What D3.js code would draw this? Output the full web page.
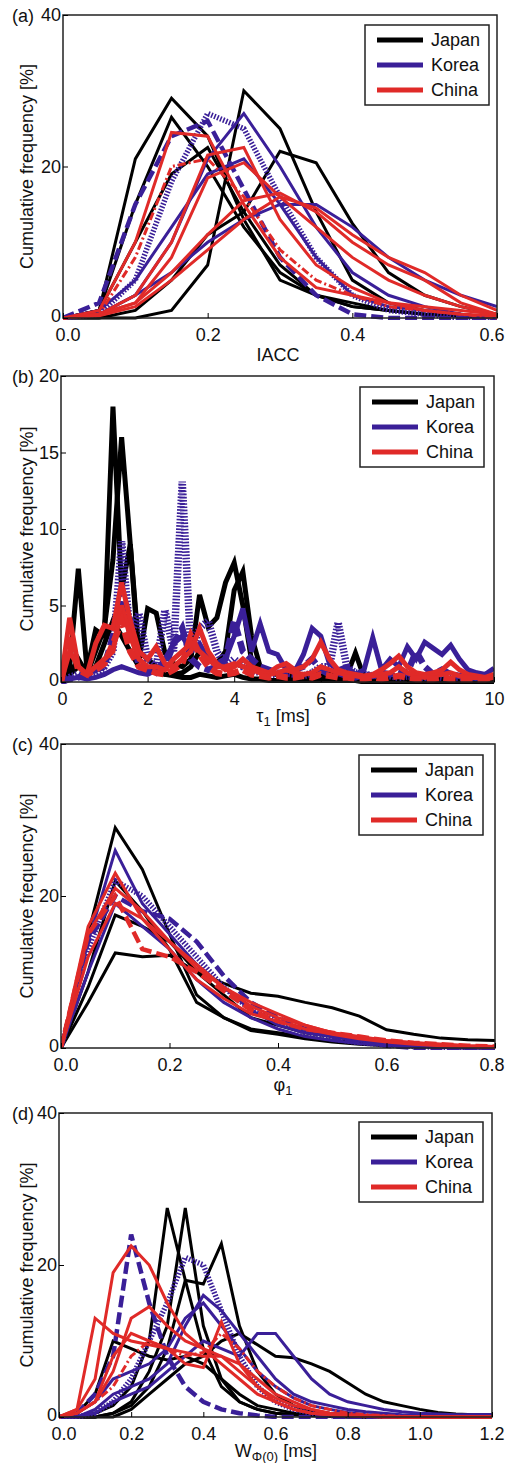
<!DOCTYPE html>
<html>
<head>
<meta charset="utf-8">
<script src="https://cdn.jsdelivr.net/npm/d3@7"></script>
<style>
  body { margin: 0; background: #fff; }
  svg text { font-family: "Liberation Sans", Arial, sans-serif; fill: #111; }
</style>
</head>
<body>
<div id="chart"></div>
<script>
// ---------- (a) IACC ----------
var iaccX = [0, 0.05, 0.1, 0.15, 0.2, 0.25, 0.3, 0.35, 0.4, 0.45, 0.5, 0.55, 0.6];
var iaccJapan = [
  [0, 1, 21, 29, 24, 13, 5, 3, 2, 1, 0.5, 0.3, 0],
  [0, 1, 15, 26.5, 20, 12, 6, 3, 1.5, 1, 0.5, 0.2, 0],
  [0, 0, 0, 1, 7, 30, 25, 14, 5, 2, 1, 0.5, 0],
  [0, 0, 1, 5, 11, 14, 22, 20.5, 12.5, 6, 3, 1.5, 0.5],
  [0, 1, 10, 19, 22.5, 14, 7, 3, 1.5, 1, 0.5, 0.3, 0]
];
var iaccKorea = [
  [0, 0.5, 3, 10, 21, 27, 20, 12, 6, 3, 1.5, 0.5, 0],
  [0, 2, 15, 24, 26, 17, 8, 3, 0.5, 0, 0, 0, 0],
  [0, 0.5, 5, 18, 27, 25, 16, 8, 3, 1, 0.5, 0, 0],
  [0, 0.5, 3, 6, 10, 13, 15, 15, 12, 8, 5, 3, 1.5],
  [0, 1, 5, 12, 19, 21, 15, 8, 3, 1.5, 1, 0.5, 0]
];
var iaccChina = [
  [0, 1, 10, 24.5, 24, 15, 8, 4, 3, 2, 1, 0.5, 0.3],
  [0, 0.5, 8, 20, 21, 16, 9, 5, 3, 1.5, 1, 0.5, 0],
  [0, 0.5, 3, 10, 21.5, 22.5, 13, 7, 4, 2, 1.5, 1, 0.5],
  [0, 0.5, 2, 8, 18.5, 20.5, 16, 12, 8, 5, 3, 1.5, 0.5],
  [0, 0.5, 2, 6, 11, 15.5, 16.5, 14, 10, 7, 5, 2, 0.5],
  [0, 0.3, 1.5, 5, 9, 13, 16, 14.5, 11, 8, 6, 3, 1]
];
var iaccTicks = [0, 0.2, 0.4, 0.6];

// ---------- (b) tau1 ----------
var tauX = [0, 0.2, 0.4, 0.6, 0.8, 1, 1.2, 1.4, 1.6, 1.8,
  2, 2.2, 2.4, 2.6, 2.8, 3, 3.2, 3.4, 3.6, 3.8,
  4, 4.2, 4.4, 4.6, 4.8, 5, 5.2, 5.4, 5.6, 5.8,
  6, 6.2, 6.4, 6.6, 6.8, 7, 7.2, 7.4, 7.6, 7.8,
  8, 8.2, 8.4, 8.6, 8.8, 9, 9.2, 9.4, 9.6, 9.8, 10];
var tauJapan = [
  [0, 1, 7.4, 0.8, 3.4, 3, 18, 6, 9, 1.4,
   4.8, 4.5, 1.9, 1.2, 1, 1.5, 5.7, 3.6, 4.2, 6.5,
   7.8, 5, 1.4, 0.8, 0.6, 0.5, 0.4, 0.5, 0.3, 0.4,
   0.8, 0.5, 0.3, 0.4, 1.9, 0.3, 0.2, 0.3, 0.2, 0.2,
   0.3, 0.2, 0.2, 0.3, 0.2, 0.2, 0.3, 0.2, 0.2, 0.2, 0.3],
  [0, 0.5, 1, 0.5, 2, 3.5, 8, 16, 9, 2,
   1.5, 1, 0.5, 0.5, 0.6, 1, 2, 1.5, 1.2, 2,
   6, 7.2, 3, 1, 0.6, 0.5, 0.4, 0.4, 0.3, 0.3,
   0.4, 0.3, 0.3, 0.2, 0.2, 0.2, 0.2, 0.2, 0.1, 0.1,
   0.2, 0.1, 0.1, 0.1, 0.1, 0.1, 0.1, 0.1, 0.1, 0.1, 0.1],
  [0, 0.5, 1.5, 0.5, 1, 2.5, 4, 3, 2, 1,
   0.8, 0.6, 0.5, 0.4, 0.3, 0.3, 0.5, 0.4, 0.3, 0.4,
   0.5, 0.3, 0.2, 0.2, 0.1, 0.1, 0.1, 0.1, 0.1, 0.1,
   0.1, 0.1, 0.1, 0.1, 0.1, 0, 0, 0, 0, 0,
   0, 0, 0, 0, 0, 0, 0, 0, 0, 0, 0]
];
var tauKorea = [
  [0, 0.2, 0.3, 0.2, 0.3, 0.5, 0.8, 1, 0.8, 0.6,
   0.5, 0.8, 1.5, 2.5, 3, 2, 2.5, 1.5, 1.2, 1.5,
   3, 4.8, 2, 3.8, 2, 1.8, 0.8, 0.7, 1.8, 3.5,
   3, 1.2, 0.8, 1, 0.5, 0.8, 2.9, 0.8, 1.5, 1,
   2.3, 1.5, 2.6, 2.2, 1.8, 2.4, 1.5, 0.8, 0.6, 0.5, 0.9],
  [0, 0.2, 0.3, 0.5, 0.8, 1, 3, 6, 4, 1,
   0.8, 0.6, 1, 2.5, 3.5, 1.5, 1, 0.8, 1, 1.5,
   4, 2, 1.5, 1, 0.8, 0.6, 0.5, 0.8, 1, 1.5,
   0.8, 0.5, 0.6, 0.4, 0.3, 0.5, 0.4, 0.6, 0.5, 0.8,
   0.6, 2, 1, 0.5, 0.8, 0.5, 0.4, 0.3, 0.3, 0.3, 0.4],
  [0, 0.3, 0.5, 0.3, 0.5, 1, 2, 9.2, 3, 4.5,
   1.5, 1, 4.7, 2, 13.1, 2, 3.5, 4, 2, 1,
   1.5, 1, 0.8, 0.6, 0.5, 0.5, 0.6, 0.5, 0.4, 0.6,
   1, 1, 3.9, 1, 0.6, 0.5, 0.4, 0.5, 0.4, 0.3,
   0.4, 0.3, 0.3, 0.4, 0.3, 0.3, 0.3, 0.4, 0.3, 0.3, 0.4]
];
var tauChina = [
  [0, 4.2, 1, 0.5, 2.5, 3.7, 3.5, 6.5, 4, 2,
   1.5, 2.3, 1.2, 1, 1.5, 2, 3.5, 2, 1.2, 0.8,
   1, 1.5, 1, 0.8, 0.6, 1, 1.2, 0.8, 1, 1.5,
   2.6, 1.5, 0.8, 0.6, 0.5, 0.4, 0.5, 0.8, 1.2, 1.7,
   1, 0.6, 0.5, 0.6, 0.8, 1.3, 0.8, 0.5, 0.4, 0.3, 0.5],
  [0, 2, 1, 0.5, 1, 1.5, 2, 5, 3, 1.5,
   1, 1, 0.8, 1.5, 2, 2.5, 2, 1.5, 1, 1,
   1.2, 1, 0.8, 0.6, 0.5, 0.6, 0.8, 0.6, 0.5, 0.6,
   1, 0.8, 0.6, 0.5, 0.4, 0.3, 0.4, 0.5, 0.6, 1,
   0.6, 0.4, 0.3, 0.4, 0.5, 0.6, 0.4, 0.3, 0.3, 0.2, 0.3],
  [0, 3, 0.8, 0.5, 0.8, 1.2, 2.5, 4, 2, 1,
   0.8, 0.6, 0.5, 0.8, 1.2, 3, 1.8, 1, 0.6, 0.5,
   0.6, 0.8, 0.5, 0.4, 0.3, 0.4, 0.3, 0.3, 0.4, 0.3,
   0.5, 0.4, 0.3, 0.3, 0.2, 0.2, 0.3, 0.2, 0.3, 0.4,
   0.3, 0.2, 0.2, 0.2, 0.3, 0.2, 0.2, 0.2, 0.2, 0.2, 0.3]
];
var tauTicks = [0, 2, 4, 6, 8, 10];

// ---------- (c) phi1 ----------
var phiX = [0, 0.05, 0.1, 0.15, 0.2, 0.25, 0.3, 0.35, 0.4, 0.45, 0.5, 0.55, 0.6, 0.65, 0.7, 0.75, 0.8];
var phiJapan = [
  [0, 15, 29, 23.5, 15, 7, 4, 2.5, 2, 1.5, 1, 0.7, 0.5, 0.3, 0.2, 0.1, 0],
  [0, 8, 17.5, 16, 14, 10, 7, 4, 3, 2, 1.5, 1, 0.7, 0.5, 0.3, 0.2, 0.1],
  [0, 6, 12.5, 12, 12.2, 10, 8.5, 7.2, 6.8, 6, 5.3, 4.2, 2.4, 1.8, 1.3, 1.1, 1],
  [0, 10, 22, 18, 13, 6, 4, 2.3, 1.8, 1.2, 0.8, 0.5, 0.3, 0.2, 0.1, 0, 0]
];
var phiKorea = [
  [0, 14, 26, 19, 15, 11, 8, 5, 3, 2, 1.5, 1, 0.5, 0.3, 0.2, 0.1, 0],
  [0, 14, 20, 18, 17, 14, 9.5, 6, 4, 2.5, 1.5, 0.8, 0.3, 0, 0, 0, 0],
  [0, 13, 22, 20, 16, 12, 8, 5, 3.5, 2, 1.2, 0.7, 0.4, 0.2, 0.1, 0, 0],
  [0, 10, 19, 16, 13, 9, 6, 4, 2.5, 1.5, 1, 0.6, 0.4, 0.2, 0.1, 0, 0]
];
var phiChina = [
  [0, 16, 23, 17, 14, 11, 8, 5.5, 4, 3, 2, 1.5, 1, 0.7, 0.5, 0.3, 0.2],
  [0, 15, 21, 18, 14, 10.5, 8, 6, 4.5, 3, 2, 1.4, 1, 0.7, 0.5, 0.3, 0.2],
  [0, 15, 20, 13, 12, 10, 7.5, 5, 3.5, 2.5, 2, 1.5, 1, 0.7, 0.5, 0.3, 0.2],
  [0, 12, 19, 17, 13, 9, 6.5, 4.5, 3.5, 2.5, 1.8, 1.2, 0.8, 0.5, 0.3, 0.2, 0.1]
];
var phiTicks = [0, 0.2, 0.4, 0.6, 0.8];

// ---------- (d) W_phi(0) ----------
var wX = [0, 0.05, 0.1, 0.15, 0.2, 0.25, 0.3, 0.35, 0.4, 0.45, 0.5, 0.55, 0.6,
  0.65, 0.7, 0.75, 0.8, 0.85, 0.9, 0.95, 1, 1.05, 1.1, 1.15, 1.2];
var wJapan = [
  [0, 0, 0.5, 1.5, 4, 10, 27.5, 18, 9, 4, 2, 1, 0.5, 0.3, 0.2, 0.1, 0, 0, 0, 0, 0, 0, 0, 0, 0],
  [0, 0, 0, 0.5, 2, 6, 12, 27.5, 12, 5, 2, 1, 0.5, 0.3, 0.2, 0.1, 0, 0, 0, 0, 0, 0, 0, 0, 0],
  [0, 0, 0, 0.5, 1.5, 4, 9, 18, 17.5, 22.8, 12, 6, 3, 1.5, 0.8, 0.5, 0.3, 0.2, 0.1, 0, 0, 0, 0, 0, 0],
  [0, 0, 0, 0, 1, 3, 5, 7, 8, 10, 11, 9.5, 8, 7.8, 7, 6, 4.5, 3, 2, 1.5, 1, 0.6, 0.4, 0.3, 0.3],
  [0, 0.5, 3, 10, 9, 8, 7.5, 8, 7, 5, 3, 1.5, 1, 0.5, 0.3, 0.2, 0.1, 0, 0, 0, 0, 0, 0, 0, 0]
];
var wKorea = [
  [0, 0, 1, 3, 4, 5, 7, 12, 16, 14, 11, 8, 5, 3, 2, 1.5, 1, 0.7, 0.5, 0.3, 0.2, 0.2, 0.2, 0.3, 0.3],
  [0, 0.5, 3, 8, 24, 15, 8, 4, 2, 1, 0.5, 0.2, 0, 0, 0, 0, 0, 0, 0, 0, 0, 0, 0, 0, 0],
  [0, 0, 0.5, 2, 5, 10, 15, 21, 20, 14, 8, 4, 2, 1, 0.5, 0.2, 0, 0, 0, 0, 0, 0, 0, 0, 0],
  [0, 0, 0.5, 2, 3, 4, 6, 8, 10, 9, 8, 11, 11, 8, 5, 3, 2, 1.5, 1, 0.7, 0.5, 0.4, 0.3, 0.3, 0.3],
  [0, 0.5, 2, 5, 6, 7, 9, 13, 15, 12, 9, 6, 4, 2.5, 1.5, 1, 0.6, 0.3, 0.2, 0.1, 0, 0, 0, 0, 0]
];
var wChina = [
  [0, 1, 13, 11, 10, 9.5, 9, 8.5, 8, 8, 7, 5, 3, 2, 1, 0.5, 0.3, 0.2, 0.1, 0, 0, 0, 0, 0, 0],
  [0, 1, 5, 19, 22.5, 20, 15, 11, 9, 7, 5, 3, 2, 1, 0.5, 0.3, 0.2, 0.1, 0, 0, 0, 0, 0, 0, 0],
  [0, 0.5, 2, 6, 13, 14.5, 12, 10, 9, 8, 6, 4, 2.5, 1.5, 1, 0.5, 0.3, 0.2, 0.1, 0, 0, 0, 0, 0, 0],
  [0, 0.5, 2, 8, 11, 10, 9, 7, 6.5, 12.5, 7, 4, 2, 1, 0.5, 0.3, 0.2, 0.1, 0, 0, 0, 0, 0, 0, 0],
  [0, 0.5, 2, 4, 8, 10, 9, 8, 8.5, 11, 9, 6, 4, 2.5, 1.5, 1, 0.5, 0.3, 0.2, 0.1, 0, 0, 0, 0, 0]
];
var wTicks = [0, 0.2, 0.4, 0.6, 0.8, 1.0, 1.2];

var countries = ["Japan", "Korea", "China"];

// line style per curve: s = solid, d = dashed, o = dotted, x = dash-dot
var colors = { Japan: "#000000", Korea: "#3a1f98", China: "#e02a28" };
var dashes = { s: null, d: "12,5", o: "1.6,1.6", x: "8,3,2,3" };

var panels = [
  { id: "a", left: 63, top: 15, right: 497, bottom: 318, lw: 3,
    xs: iaccX, data: { Japan: iaccJapan, Korea: iaccKorea, China: iaccChina },
    styles: { Japan: ["s", "s", "s", "s", "s"], Korea: ["s", "d", "o", "s", "s"], China: ["s", "x", "s", "s", "s", "s"] },
    xDomain: [0, 0.6], yDomain: [0, 40], xTicks: iaccTicks, yTicks: [0, 20, 40], fmt: ".1f",
    legendX: 365, legendY: 25, labelX: 278, labelY: 361 },
  { id: "b", left: 61, top: 376, right: 494, bottom: 682, lw: 5,
    xs: tauX, data: { Japan: tauJapan, Korea: tauKorea, China: tauChina },
    styles: { Japan: ["s", "s", "s"], Korea: ["s", "d", "o"], China: ["s", "s", "d"] },
    xDomain: [0, 10], yDomain: [0, 20], xTicks: tauTicks, yTicks: [0, 5, 10, 15, 20], fmt: "d",
    legendX: 360, legendY: 387, labelX: 283, labelY: 722 },
  { id: "c", left: 61, top: 744, right: 495, bottom: 1048, lw: 3,
    xs: phiX, data: { Japan: phiJapan, Korea: phiKorea, China: phiChina },
    styles: { Japan: ["s", "s", "s", "s"], Korea: ["s", "d", "o", "s"], China: ["s", "s", "d", "s"] },
    xDomain: [0, 0.8], yDomain: [0, 40], xTicks: phiTicks, yTicks: [0, 20, 40], fmt: ".1f",
    legendX: 359, legendY: 755, labelX: 283, labelY: 1091 },
  { id: "d", left: 59, top: 1113, right: 492, bottom: 1417, lw: 3,
    xs: wX, data: { Japan: wJapan, Korea: wKorea, China: wChina },
    styles: { Japan: ["s", "s", "s", "s", "s"], Korea: ["s", "d", "o", "s", "s"], China: ["s", "s", "s", "s", "x"] },
    xDomain: [0, 1.2], yDomain: [0, 40], xTicks: wTicks, yTicks: [0, 20, 40], fmt: ".1f",
    legendX: 359, legendY: 1122, labelX: 276, labelY: 1457 }
];

var svg = d3.select("#chart")
  .append("svg")
  .attr("width", 505)
  .attr("height", 1463);

svg.append("rect").attr("width", 505).attr("height", 1463).attr("fill", "#fff");

panels.forEach(function (p) {
  var x = d3.scaleLinear().domain(p.xDomain).range([p.left, p.right]);
  var y = d3.scaleLinear().domain(p.yDomain).range([p.bottom, p.top]);
  var g = svg.append("g");

  g.append("clipPath").attr("id", "clip" + p.id)
    .append("rect")
    .attr("x", p.left).attr("y", p.top)
    .attr("width", p.right - p.left).attr("height", p.bottom - p.top + 2);

  var line = d3.line()
    .x(function (d, i) { return x(p.xs[i]); })
    .y(function (d) { return y(d); });

  var lines = g.append("g").attr("clip-path", "url(#clip" + p.id + ")");
  countries.forEach(function (c) {
    p.data[c].forEach(function (vals, k) {
      var st = p.styles[c][k];
      lines.append("path")
        .datum(vals)
        .attr("d", line)
        .attr("fill", "none")
        .attr("stroke", colors[c])
        .attr("stroke-width", st === "s" ? p.lw : (st === "d" ? p.lw + 1.5 : (st === "o" ? p.lw + 2.5 : p.lw)))
        .attr("stroke-dasharray", dashes[st])
        .attr("stroke-linejoin", "miter");
    });
  });

  // frame
  g.append("rect")
    .attr("x", p.left).attr("y", p.top)
    .attr("width", p.right - p.left).attr("height", p.bottom - p.top)
    .attr("fill", "none").attr("stroke", "#222").attr("stroke-width", 1.5);

  // axes: ticks point inwards
  var yAxis = g.append("g")
    .attr("transform", "translate(" + p.left + ",0)")
    .call(d3.axisLeft(y).tickValues(p.yTicks).tickSize(-5).tickPadding(2));
  yAxis.select(".domain").remove();
  yAxis.selectAll("text").style("font-size", "18px");
  yAxis.selectAll(".tick:first-of-type text").attr("dy", "0.2em");

  var xAxis = g.append("g")
    .attr("transform", "translate(0," + p.bottom + ")")
    .call(d3.axisBottom(x).tickValues(p.xTicks).tickSize(-5).tickPadding(10).tickFormat(d3.format(p.fmt)));
  xAxis.select(".domain").remove();
  xAxis.selectAll("text").style("font-size", "18px");
  // end labels are pulled inside the axis span, as in the source figure
  xAxis.selectAll(".tick:first-of-type text")
    .attr("text-anchor", "start")
    .attr("x", p.id === "b" ? -4 : -8);
  xAxis.selectAll(".tick:last-of-type text")
    .attr("text-anchor", "end")
    .attr("x", 504 - p.right);

  // panel letter
  g.append("text")
    .attr("x", 12).attr("y", p.top + 7)
    .style("font-size", "18px")
    .text("(" + p.id + ")");

  // y label
  g.append("text")
    .attr("transform", "translate(33," + ((p.top + p.bottom) / 2) + ") rotate(-90)")
    .attr("text-anchor", "middle")
    .style("font-size", "18px")
    .text("Cumulative frequency [%]");

  // x label
  var xl = g.append("text")
    .attr("x", p.labelX).attr("y", p.labelY)
    .attr("text-anchor", "middle")
    .style("font-size", "18px");
  if (p.id === "a") {
    xl.text("IACC");
  } else if (p.id === "b") {
    xl.append("tspan").text("τ");
    xl.append("tspan").attr("dy", 4).style("font-size", "13px").text("1");
    xl.append("tspan").attr("dy", -4).text(" [ms]");
  } else if (p.id === "c") {
    xl.append("tspan").text("φ");
    xl.append("tspan").attr("dy", 4).style("font-size", "13px").text("1");
  } else {
    xl.append("tspan").text("W");
    xl.append("tspan").attr("dy", 4).style("font-size", "13px").text("Φ(0)");
    xl.append("tspan").attr("dy", -4).text(" [ms]");
  }

  // legend
  var lg = g.append("g").attr("transform", "translate(" + p.legendX + "," + p.legendY + ")");
  lg.append("rect")
    .attr("width", 124).attr("height", 80)
    .attr("fill", "#fff").attr("stroke", "#222").attr("stroke-width", 1.5);
  var item = lg.selectAll("g.item")
    .data(countries)
    .join("g")
    .attr("class", "item")
    .attr("transform", function (d, i) { return "translate(0," + (15 + i * 25) + ")"; });
  item.append("line")
    .attr("x1", 12).attr("x2", 58)
    .attr("stroke", function (d) { return colors[d]; })
    .attr("stroke-width", 5);
  item.append("text")
    .attr("x", 66).attr("y", 6)
    .style("font-size", "18px")
    .text(function (d) { return d; });
});
</script>
</body>
</html>
